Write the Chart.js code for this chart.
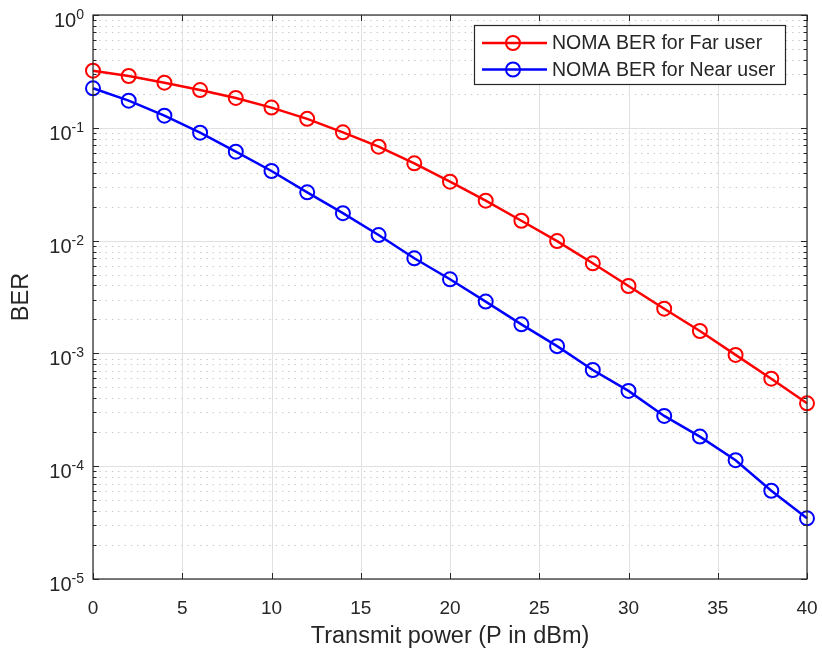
<!DOCTYPE html>
<html>
<head>
<meta charset="utf-8">
<script src="https://cdn.jsdelivr.net/npm/chart.js@4.4.0/dist/chart.umd.min.js"></script>
<style>
  html, body { margin: 0; padding: 0; background: #fff; }
  canvas { display: block; }
</style>
</head>
<body>
<canvas id="berChart" width="822" height="653"></canvas>
<script>
// transmit power (dBm) and BER
var txPower = [0, 2, 4, 6, 8, 10, 12, 14, 16, 18, 20, 22, 24, 26, 28, 30, 32, 34, 36, 38, 40];
var farBer = [0.321, 0.288, 0.251, 0.216, 0.184, 0.151, 0.120, 0.0912, 0.068, 0.0484, 0.0333,
              0.0226, 0.0150, 0.0099, 0.00629, 0.00396, 0.00249, 0.00158, 0.00097, 0.000597, 0.000361];
var nearBer = [0.224, 0.174, 0.128, 0.0905, 0.0614, 0.0414, 0.0268, 0.0175, 0.0112, 0.00697, 0.00454,
               0.00288, 0.00181, 0.00116, 0.000713, 0.000465, 0.000279, 0.000183, 0.000113, 0.0000606, 0.0000345];
var seriesNames = ['NOMA BER for Far user', 'NOMA BER for Near user'];
var xTickValues = [0, 5, 10, 15, 20, 25, 30, 35, 40];
var yExponents = [-5, -4, -3, -2, -1, 0];

var FONT = "'Liberation Sans', Arial, Helvetica, sans-serif";
var INK = '#262626';

function toPoints(ys) {
     return txPower.map(function (x, i) { return { x: x, y: ys[i] }; });
}

// MATLAB style grid, box, inward ticks, 10^n labels and legend
var matlabAxes = {
     id: 'matlabAxes',
     beforeDatasetsDraw: function (chart) {
          var ctx = chart.ctx, a = chart.chartArea;
          var xs = chart.scales.x, ys = chart.scales.y;
          ctx.save();
          // minor y grid, dotted
          ctx.strokeStyle = '#c4c4c4';
          ctx.lineWidth = 1;
          ctx.setLineDash([1.3, 5]);
          yExponents.forEach(function (e) {
               if (e === 0) return;
               for (var m = 2; m <= 9; m++) {
                    var py = Math.round(ys.getPixelForValue(m * Math.pow(10, e))) + 0.5;
                    ctx.beginPath(); ctx.moveTo(a.left, py); ctx.lineTo(a.right, py); ctx.stroke();
               }
          });
          // major grid, solid
          ctx.setLineDash([]);
          ctx.strokeStyle = '#e1e1e1';
          xTickValues.forEach(function (v) {
               var px = Math.round(xs.getPixelForValue(v)) + 0.5;
               ctx.beginPath(); ctx.moveTo(px, a.top); ctx.lineTo(px, a.bottom); ctx.stroke();
          });
          yExponents.forEach(function (e) {
               var py = Math.round(ys.getPixelForValue(Math.pow(10, e))) + 0.5;
               ctx.beginPath(); ctx.moveTo(a.left, py); ctx.lineTo(a.right, py); ctx.stroke();
          });
          ctx.restore();
     },
     afterDatasetsDraw: function (chart) {
          var ctx = chart.ctx, a = chart.chartArea;
          var xs = chart.scales.x, ys = chart.scales.y;
          ctx.save();
          ctx.strokeStyle = INK;
          ctx.lineWidth = 1.2;
          ctx.strokeRect(a.left, a.top, a.right - a.left, a.bottom - a.top);
          ctx.lineWidth = 1;
          ctx.beginPath();
          xTickValues.forEach(function (v) {
               var px = Math.round(xs.getPixelForValue(v)) + 0.5;
               ctx.moveTo(px, a.bottom); ctx.lineTo(px, a.bottom - 6);
               ctx.moveTo(px, a.top); ctx.lineTo(px, a.top + 6);
          });
          yExponents.forEach(function (e) {
               var py = Math.round(ys.getPixelForValue(Math.pow(10, e))) + 0.5;
               ctx.moveTo(a.left, py); ctx.lineTo(a.left + 6, py);
               ctx.moveTo(a.right, py); ctx.lineTo(a.right - 6, py);
               if (e === 0) return;
               for (var m = 2; m <= 9; m++) {
                    var pm = Math.round(ys.getPixelForValue(m * Math.pow(10, e))) + 0.5;
                    ctx.moveTo(a.left, pm); ctx.lineTo(a.left + 3.5, pm);
                    ctx.moveTo(a.right, pm); ctx.lineTo(a.right - 3.5, pm);
               }
          });
          ctx.stroke();

          // y tick labels 10^n
          ctx.fillStyle = INK;
          ctx.textAlign = 'right';
          ctx.textBaseline = 'alphabetic';
          var rightEdge = a.left - 9;
          yExponents.forEach(function (e) {
               var py = ys.getPixelForValue(Math.pow(10, e));
               var ex = String(e);
               ctx.font = '14px ' + FONT;
               var w = ctx.measureText(ex).width;
               ctx.fillText(ex, rightEdge, py + 4);
               ctx.font = '20px ' + FONT;
               ctx.fillText('10', rightEdge - w, py + 12);
          });

          // legend
          var bx = a.right - 333, by = a.top + 10, bw = 311, bh = 59;
          ctx.fillStyle = '#ffffff';
          ctx.fillRect(bx, by, bw, bh);
          ctx.strokeStyle = INK;
          ctx.lineWidth = 1.2;
          ctx.strokeRect(bx + 0.5, by + 0.5, bw, bh);
          chart.data.datasets.forEach(function (ds, i) {
               var ry = by + 18 + i * 26.5;
               ctx.strokeStyle = ds.borderColor;
               ctx.lineWidth = ds.borderWidth;
               ctx.beginPath(); ctx.moveTo(bx + 8, ry); ctx.lineTo(bx + 73, ry); ctx.stroke();
               ctx.lineWidth = ds.pointBorderWidth;
               ctx.beginPath(); ctx.arc(bx + 39, ry, ds.pointRadius, 0, Math.PI * 2); ctx.stroke();
               ctx.fillStyle = INK;
               ctx.font = '19.5px ' + FONT;
               ctx.textAlign = 'left';
               ctx.textBaseline = 'middle';
               ctx.fillText(ds.label, bx + 78, ry + 1);
          });
          ctx.restore();
     }
};

function lineSet(label, ys, color) {
     return {
          label: label,
          data: toPoints(ys),
          borderColor: color,
          backgroundColor: 'transparent',
          borderWidth: 2.5,
          pointRadius: 7,
          pointHoverRadius: 7,
          pointBorderWidth: 2,
          pointBorderColor: color,
          pointBackgroundColor: 'transparent',
          tension: 0,
          fill: false,
          clip: false
     };
}

new Chart('berChart', {
     type: 'line',
     data: {
          datasets: [
               lineSet(seriesNames[0], farBer, '#ff0000'),
               lineSet(seriesNames[1], nearBer, '#0000ff')
          ]
     },
     plugins: [matlabAxes],
     options: {
          responsive: false,
          animation: false,
          events: [],
          layout: { autoPadding: false, padding: { left: 0, right: 15, top: 15, bottom: 0 } },
          plugins: {
               legend: { display: false },
               tooltip: { enabled: false }
          },
          scales: {
               x: {
                    type: 'linear',
                    min: 0,
                    max: 40,
                    afterFit: function (s) {
                         s.height = 74;
                         s.paddingLeft = 0;
                         s.paddingRight = 0;
                    },
                    afterBuildTicks: function (s) {
                         s.ticks = xTickValues.map(function (v) { return { value: v }; });
                    },
                    ticks: {
                         font: { family: FONT, size: 19 },
                         color: INK,
                         padding: 10,
                         maxRotation: 0
                    },
                    grid: { display: false },
                    border: { display: false },
                    title: {
                         display: true,
                         text: 'Transmit power (P in dBm)',
                         font: { family: FONT, size: 23.5 },
                         color: INK,
                         padding: { top: 0, bottom: 2 }
                    }
               },
               y: {
                    type: 'logarithmic',
                    min: 1e-5,
                    max: 1,
                    afterFit: function (s) {
                         s.width = 93;
                         s.paddingTop = 0;
                         s.paddingBottom = 0;
                    },
                    ticks: { display: false },
                    grid: { display: false },
                    border: { display: false },
                    title: {
                         display: true,
                         text: 'BER',
                         font: { family: FONT, size: 23.5 },
                         color: INK,
                         padding: { top: 7, bottom: 0 }
                    }
               }
          }
     }
});
</script>
</body>
</html>
